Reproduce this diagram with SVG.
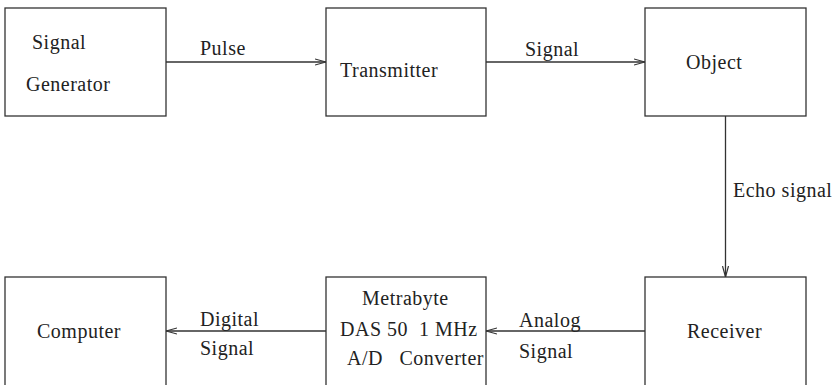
<svg xmlns="http://www.w3.org/2000/svg" width="836" height="385" viewBox="0 0 836 385">
  <style>
    .box { fill: #fff; stroke: #333; stroke-width: 1.3; }
    .lbl { font-family: "Liberation Serif", "Times New Roman", serif; font-size: 20px; letter-spacing: 0.5px; fill: #222; }
    .wire { stroke: #333; stroke-width: 1.3; fill: none; marker-end: url(#head); }
  </style>
  <defs>
    <marker id="head" markerWidth="12" markerHeight="8" refX="11" refY="4" orient="auto" markerUnits="userSpaceOnUse">
      <path d="M0,1 L11,4 L0,7" fill="none" stroke="#333" stroke-width="1.2"/>
    </marker>
  </defs>
  <rect width="836" height="385" fill="#fff"/>

  <g id="connectors">
    <path class="wire" d="M166,62 H326"/>
    <path class="wire" d="M486,62 H645"/>
    <path class="wire" d="M725.5,116 V277"/>
    <path class="wire" d="M645,331 H486"/>
    <path class="wire" d="M326,331 H166"/>
    <text class="lbl" x="200" y="55">Pulse</text>
    <text class="lbl" x="525" y="56">Signal</text>
    <text class="lbl" x="733" y="197">Echo signal</text>
    <text class="lbl" x="519" y="327">Analog</text>
    <text class="lbl" x="519" y="358">Signal</text>
    <text class="lbl" x="200" y="326">Digital</text>
    <text class="lbl" x="200" y="355">Signal</text>
  </g>

  <g id="signal-generator">
    <rect class="box" x="5" y="8" width="161" height="108"/>
    <text class="lbl" x="32" y="49">Signal</text>
    <text class="lbl" x="26" y="91">Generator</text>
  </g>
  <g id="transmitter">
    <rect class="box" x="326" y="8" width="160" height="108"/>
    <text class="lbl" x="340" y="77">Transmitter</text>
  </g>
  <g id="object">
    <rect class="box" x="645" y="8" width="161" height="108"/>
    <text class="lbl" x="686" y="69">Object</text>
  </g>
  <g id="receiver">
    <rect class="box" x="645" y="277" width="161" height="110"/>
    <text class="lbl" x="687" y="338">Receiver</text>
  </g>
  <g id="ad-converter">
    <rect class="box" x="326" y="277" width="160" height="110"/>
    <text class="lbl" x="362" y="305">Metrabyte</text>
    <text class="lbl" x="340" y="336" xml:space="preserve">DAS 50  1 MHz</text>
    <text class="lbl" x="347" y="365" xml:space="preserve">A/D   Converter</text>
  </g>
  <g id="computer">
    <rect class="box" x="5" y="277" width="161" height="110"/>
    <text class="lbl" x="37" y="338">Computer</text>
  </g>
</svg>
